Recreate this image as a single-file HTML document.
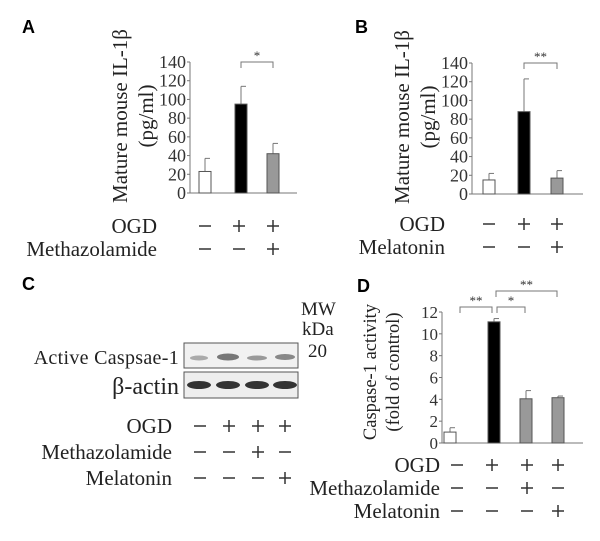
<!DOCTYPE html>
<html><head><meta charset="utf-8"><style>
body{margin:0;background:#fff;}
svg text{font-family:"Liberation Serif","DejaVu Serif",serif;}
svg text.pl{font-family:"Liberation Sans",sans-serif;font-weight:bold;font-size:18px;}
</style></head><body>
<svg id="s" width="600" height="536" viewBox="0 0 600 536" xmlns="http://www.w3.org/2000/svg">
<text class="pl" x="22" y="33">A</text>
<text class="pl" x="355" y="33">B</text>
<text class="pl" x="22" y="290">C</text>
<text class="pl" x="357" y="292">D</text>
<g>
<text x="179" y="364" text-anchor="end" font-size="20" fill="#222" letter-spacing="0.3">Active Caspsae-1</text>
<text x="179" y="394" text-anchor="end" font-size="24" fill="#222">β-actin</text>
<rect x="184" y="343" width="114" height="25" fill="#f1f1f1" stroke="#555"/>
<rect x="184" y="372" width="114" height="26" fill="#eee" stroke="#555"/>
<ellipse cx="199" cy="358" rx="9" ry="2.5" fill="#aaa"/><ellipse cx="228" cy="357" rx="11" ry="3.5" fill="#777"/><ellipse cx="257" cy="358" rx="10" ry="2.5" fill="#999"/><ellipse cx="285" cy="357" rx="10" ry="3" fill="#888"/>
<ellipse cx="199" cy="385" rx="12" ry="4" fill="#333"/><ellipse cx="228" cy="385" rx="12" ry="4" fill="#333"/><ellipse cx="257" cy="385" rx="12" ry="4" fill="#333"/><ellipse cx="285" cy="385" rx="12" ry="4" fill="#333"/>
<text x="301" y="315" font-size="19" fill="#222">MW</text><text x="302" y="335" font-size="19" fill="#222">kDa</text><text x="308" y="357" font-size="19" fill="#222">20</text>
</g>
</svg>
<script>
const aVals=[23,95,42], aErr=[37,114,53];
const bVals=[15,88,17], bErr=[22,123,25];
const dVals=[1,11.1,4.05,4.15], dErr=[1.4,11.4,4.8,4.3];
const ilTicks=[0,20,40,60,80,100,120,140];
const dTicks=[0,2,4,6,8,10,12];
const fills=["#fff","#000","#999","#999"];
const S=document.getElementById('s'),NS="http://www.w3.org/2000/svg";
function mk(t,a,txt){const e=document.createElementNS(NS,t);for(const k in a)e.setAttribute(k,a[k]);if(txt!==undefined)e.textContent=txt;S.appendChild(e);return e;}
function sign(x,y,c){mk('line',{x1:x-6,x2:x+6,y1:y,y2:y,stroke:'#333','stroke-width':1.5});
 if(c==='+')mk('line',{x1:x,x2:x,y1:y-6,y2:y+6,stroke:'#333','stroke-width':1.5});}
function chart(p){
 const y=v=>p.y0-(v-p.min)/(p.max-p.min)*(p.y0-p.y1);
 const ax=mk('path',{d:`M${p.ax} ${p.y1}V${p.y0}H${p.axEnd}`,stroke:'#777',fill:'none','stroke-width':1});
 
 p.ticks.forEach(t=>{mk('line',{x1:p.ax-3,x2:p.ax,y1:y(t),y2:y(t),stroke:'#777'});
  const l=mk('text',{x:p.ax-4,y:y(t)+6,'text-anchor':'end','font-size':p.fs,fill:'#333'},t);
  });
 p.vals.forEach((v,i)=>{const cx=p.xs[i];
  mk('line',{x1:cx,x2:cx,y1:y(p.err[i]),y2:y(v),stroke:'#777'});
  mk('line',{x1:cx,x2:cx+5,y1:y(p.err[i]),y2:y(p.err[i]),stroke:'#777'});
  const r=mk('rect',{x:cx-6,y:y(v),width:12,height:y(p.min)-y(v),fill:fills[i],stroke:'#555'});
  });
 const g=mk('text',{transform:`translate(${p.lx},${p.ly}) rotate(-90)`,'text-anchor':'middle','font-size':p.lfs,fill:'#222'});
 
 p.lab.forEach((s,j)=>{const ts=document.createElementNS(NS,'tspan');ts.setAttribute('x',0);ts.setAttribute('y',j*p.lgap);ts.textContent=s;g.appendChild(ts);});
 p.rows.forEach((r,j)=>{const t=mk('text',{x:p.rx,y:r.y+7,'text-anchor':'end','font-size':p.rfs,fill:'#222'},r.name);
  
  r.s.forEach((c,i)=>sign(p.sx[i],r.y,c));});
 p.br.forEach(b=>{mk('path',{d:`M${b[0]} ${b[2]+6}V${b[2]}H${b[1]}V${b[2]+6}`,stroke:'#777',fill:'none'});
  mk('text',{x:(b[0]+b[1])/2,y:b[2]-2,'text-anchor':'middle','font-size':13,fill:'#333'},b[3]);});
}
chart({id:'panel-a',vals:aVals,err:aErr,ticks:ilTicks,min:0,max:140,y0:193,y1:62,ax:190,axEnd:297,xs:[205,241,273],fs:18,
 lab:['Mature mouse IL-1β','(pg/ml)'],lx:127,ly:116,lfs:21,lgap:26,rx:157,rfs:21,sx:[205,239,273],
 rows:[{name:'OGD',y:226,s:['-','+','+']},{name:'Methazolamide',y:249,s:['-','-','+']}],br:[[241,273,62,'*']]});
chart({id:'panel-b',vals:bVals,err:bErr,ticks:ilTicks,min:0,max:140,y0:194,y1:63,ax:472,axEnd:583,xs:[489,524,557],fs:18,
 lab:['Mature mouse IL-1β','(pg/ml)'],lx:409,ly:117,lfs:21,lgap:26,rx:445,rfs:21,sx:[489,524,557],
 rows:[{name:'OGD',y:224,s:['-','+','+']},{name:'Melatonin',y:247,s:['-','-','+']}],br:[[524,557,63,'**']]});
chart({id:'panel-d',vals:dVals,err:dErr,ticks:dTicks,min:0,max:12,y0:443,y1:312,ax:442,axEnd:583,xs:[450,494,526,558],fs:17,
 lab:['Caspase-1 activity','(fold of control)'],lx:376,ly:372,lfs:18.5,lgap:23,rx:440,rfs:21,sx:[457,492,527,558],
 rows:[{name:'OGD',y:465,s:['-','+','+','+']},{name:'Methazolamide',y:488,s:['-','-','+','-']},{name:'Melatonin',y:511,s:['-','-','-','+']}],
 br:[[460,492,307,'**'],[497,525,307,'*'],[496,557,291,'**']]});
(function(){const rows=[['OGD',426,['-','+','+','+']],['Methazolamide',452,['-','-','+','-']],['Melatonin',478,['-','-','-','+']]];
 rows.forEach(r=>{const t=mk('text',{x:172,y:r[1]+7,'text-anchor':'end','font-size':21,fill:'#222'},r[0]);
 
 
 r[2].forEach((c,i)=>sign([200,229,258,285][i],r[1],c));});})();
</script>
</body></html>
